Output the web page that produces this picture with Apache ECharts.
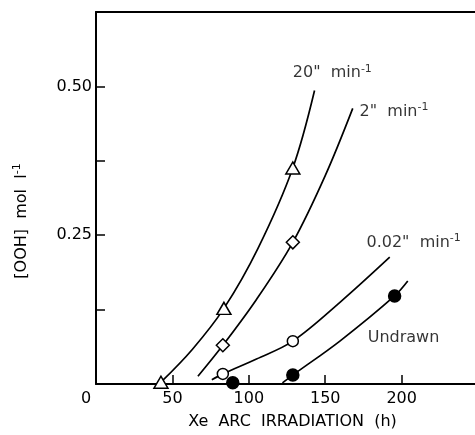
<!DOCTYPE html>
<html>
<head>
<meta charset="utf-8">
<script src="https://cdn.jsdelivr.net/npm/echarts@6/dist/echarts.min.js"></script>
<style>
  html, body { margin: 0; padding: 0; background: #fff; }
  #chart { width: 475px; height: 435px; }
</style>
</head>
<body>
<div id="chart"></div>
<script>
// measured points (x: irradiation h, y: [OOH] mol/l)
const pts20 = [[42.5, 0.003], [83.7, 0.127], [128.8, 0.363]];
const pts2 = [[83, 0.065], [128.8, 0.238]];
const pts002 = [[83, 0.017], [128.8, 0.072]];
const ptsUndrawn = [[89.5, 0.002], [128.8, 0.015], [195.4, 0.148]];

// drawn curves
const curve20 = [[42.5, 0.003], [63, 0.058], [83.7, 0.127], [106, 0.228], [128.8, 0.363], [143, 0.493]];
const curve2 = [[66.7, 0.013], [83, 0.065], [105, 0.142], [128.8, 0.238], [150, 0.35], [168, 0.463]];
const curve002 = [[75.8, 0.007], [83, 0.017], [105, 0.042], [128.8, 0.072], [160, 0.138], [192.2, 0.213]];
const curveUndrawn = [[122, 0.002], [128.8, 0.015], [160, 0.073], [195.4, 0.148], [204, 0.173]];

// curve labels: anchor (left-middle of text)
const curveLabels = [
    {value: [128.8, 0.522], text: '20"  min', sup: '-1'},
    {value: [172.5, 0.457], text: '2"  min', sup: '-1'},
    {value: [177, 0.237], text: '0.02"  min', sup: '-1'},
    {value: [177.8, 0.077], text: 'Undrawn', sup: ''}
];

const xTicks = [0, 50, 100, 150, 200];
const yTicks = [0.25, 0.5];

const FONT = 'DejaVu Sans';
let chart = echarts.init(document.getElementById('chart'));

function curveSeries(data) {
    return {
        type: 'line',
        data: data,
        smooth: 0.35,
        showSymbol: false,
        silent: true,
        lineStyle: {color: '#000', width: 1.7},
        z: 2
    };
}

function markerSeries(data, symbol, size, fill) {
    return {
        type: 'scatter',
        data: data,
        symbol: symbol,
        symbolSize: size,
        itemStyle: {color: fill, borderColor: '#000', borderWidth: 1.5, opacity: 1},
        z: 5
    };
}

const richText = {
    t: {fontSize: 16, fontFamily: FONT, color: '#000', lineHeight: 20},
    s: {fontSize: 11, fontFamily: FONT, color: '#000', verticalAlign: 'top', lineHeight: 20}
};

let option = {
    backgroundColor: '#fff',
    animation: false,
    textStyle: {fontFamily: FONT, color: '#000'},
    grid: {left: 96, top: 12, right: 0, bottom: 49},
    xAxis: [{
        type: 'value',
        min: 0,
        max: 248,
        interval: 50,
        name: 'Xe  ARC  IRRADIATION  (h)',
        nameLocation: 'middle',
        nameGap: 30,
        nameTextStyle: {fontSize: 16, fontFamily: FONT, color: '#000', padding: [0, 0, 0, 14]},
        axisLine: {lineStyle: {color: '#000', width: 2}},
        axisTick: {inside: true, length: 9, lineStyle: {color: '#000', width: 1.5}},
        splitLine: {show: false},
        axisLabel: {
            margin: 7,
            fontSize: 16,
            fontFamily: FONT,
            color: '#000',
            showMaxLabel: false,
            formatter: function (v) {
                if (xTicks.indexOf(v) < 0) return '';
                return v === 0 ? '{z|0}' : String(v);
            },
            rich: {z: {fontSize: 16, fontFamily: FONT, color: '#000', padding: [0, 20, 0, 0]}}
        }
    }, {
        type: 'value',
        position: 'top',
        min: 0,
        max: 248,
        axisLine: {show: true, onZero: false, lineStyle: {color: '#000', width: 2}},
        axisTick: {show: false},
        axisLabel: {show: false},
        splitLine: {show: false}
    }],
    yAxis: {
        type: 'value',
        min: 0,
        max: 0.625,
        interval: 0.125,
        name: '{t|[OOH]  mol  l}{s|-1}',
        nameLocation: 'middle',
        nameGap: 64,
        nameRotate: 90,
        nameTextStyle: {padding: [0, 46, 0, 0], rich: richText},
        axisLine: {lineStyle: {color: '#000', width: 2}},
        axisTick: {inside: true, length: 9, lineStyle: {color: '#000', width: 1.5}},
        splitLine: {show: false},
        axisLabel: {
            margin: 4,
            fontSize: 16,
            fontFamily: FONT,
            color: '#000',
            formatter: function (v) {
                return yTicks.indexOf(v) >= 0 ? v.toFixed(2) : '';
            }
        }
    },
    series: [
        curveSeries(curve20),
        curveSeries(curve2),
        curveSeries(curve002),
        curveSeries(curveUndrawn),
        markerSeries(pts20, 'triangle', [14, 12], '#fff'),
        markerSeries(pts2, 'diamond', [13, 13], '#fff'),
        markerSeries(pts002, 'circle', 11, '#fff'),
        markerSeries(ptsUndrawn, 'circle', 12, '#000'),
        {
            type: 'scatter',
            symbol: 'circle',
            symbolSize: 0,
            silent: true,
            itemStyle: {color: '#000'},
            data: curveLabels,
            label: {
                show: true,
                position: 'right',
                distance: 0,
                color: '#000',
                textBorderWidth: 0,
                formatter: function (p) {
                    return p.data.sup ? '{t|' + p.data.text + '}{s|' + p.data.sup + '}' : '{t|' + p.data.text + '}';
                },
                rich: richText
            },
            z: 6
        }
    ]
};
chart.setOption(option);
</script>
</body>
</html>
